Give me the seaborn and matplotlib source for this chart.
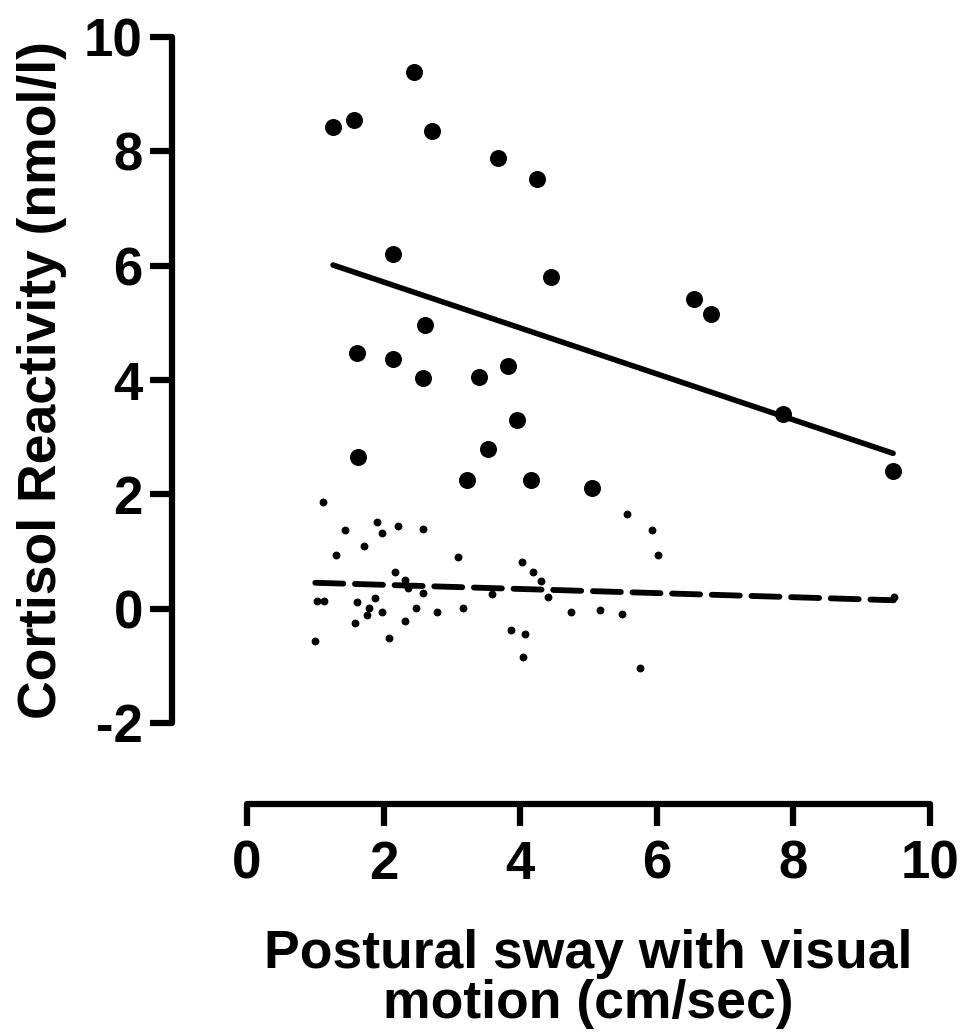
import numpy as np
import pandas as pd
import matplotlib
matplotlib.use("Agg")
import matplotlib.pyplot as plt
import seaborn as sns

# large dots (solid regression line)
big_x = [1.26, 1.57, 2.44, 2.71, 3.67, 4.25, 2.14, 4.45, 2.61, 1.61, 2.14, 2.58,
         3.40, 3.82, 3.95, 3.53, 1.63, 3.22, 4.16, 5.05, 6.55, 6.80, 7.85, 9.46]
big_y = [8.42, 8.54, 9.38, 8.35, 7.89, 7.51, 6.20, 5.80, 4.96, 4.47, 4.37, 4.03,
         4.05, 4.24, 3.30, 2.79, 2.65, 2.25, 2.25, 2.11, 5.41, 5.15, 3.40, 2.40]

# small dots (dashed regression line)
small_x = [1.11, 1.43, 1.90, 1.98, 2.21, 2.58, 1.72, 1.31, 3.09, 2.16, 2.31, 2.36,
           2.57, 1.03, 1.13, 1.61, 1.88, 1.78, 1.76, 1.97, 2.48, 2.78, 3.16, 1.58,
           2.32, 2.08, 1.00, 3.58, 4.02, 4.19, 4.31, 4.41, 3.86, 4.07, 4.04, 5.56,
           5.93, 6.02, 4.74, 5.17, 5.49, 5.76, 9.47]
small_y = [1.86, 1.38, 1.51, 1.32, 1.44, 1.39, 1.10, 0.94, 0.90, 0.65, 0.51, 0.37,
           0.28, 0.14, 0.13, 0.12, 0.18, 0.01, -0.11, -0.06, 0.01, -0.06, 0.02, -0.25,
           -0.21, -0.51, -0.57, 0.26, 0.82, 0.65, 0.48, 0.20, -0.37, -0.45, -0.85, 1.66,
           1.37, 0.94, -0.05, -0.03, -0.09, -1.03, 0.20]

x_ticks = [0, 2, 4, 6, 8, 10]
y_ticks = [-2, 0, 2, 4, 6, 8, 10]

sns.set_style("ticks")
plt.rcParams["font.family"] = ["Liberation Sans", "DejaVu Sans"]
plt.rcParams["font.weight"] = "bold"
plt.rcParams["text.color"] = "black"
plt.rcParams["axes.labelcolor"] = "black"

W, H = 966, 1032
fig = plt.figure(figsize=(W / 100, H / 100), dpi=100)
# data area in pixels: x 0..10 -> 247..930, y -2..10 -> 723..37
ax = fig.add_axes([247 / W, 1 - 723 / H, (930 - 247) / W, (723 - 37) / H])

big = pd.DataFrame({"x": big_x, "y": big_y})
small = pd.DataFrame({"x": small_x, "y": small_y})

sns.regplot(data=big, x="x", y="y", ci=None, ax=ax, color="black",
            scatter_kws={"s": 150, "linewidths": 0, "alpha": 1},
            line_kws={"lw": 4, "solid_capstyle": "round"})
sns.regplot(data=small, x="x", y="y", ci=None, ax=ax, color="black",
            scatter_kws={"s": 32, "linewidths": 0, "alpha": 1},
            line_kws={"lw": 4.2, "ls": (0, (4.8, 2.0)), "dash_capstyle": "round"})

ax.set_xlim(0, 10)
ax.set_ylim(-2, 10)
ax.set_xticks(x_ticks)
ax.set_yticks(y_ticks)
ax.set_xticklabels([str(t) for t in x_ticks])
ax.set_yticklabels([str(t) for t in y_ticks])

sns.despine(ax=ax)
ax.spines["left"].set_position(("outward", 54))
ax.spines["bottom"].set_position(("outward", 58))
for s in ["left", "bottom"]:
    ax.spines[s].set_linewidth(4.5)
    ax.spines[s].set_color("black")
    ax.spines[s].set_capstyle("round")
ax.tick_params(axis="both", length=16, width=4.5, labelsize=38,
               color="black", labelcolor="black")
ax.tick_params(axis="y", pad=5)
ax.tick_params(axis="x", pad=10)

ax.set_xlabel("Postural sway with visual\nmotion (cm/sec)", fontsize=38.5,
              fontweight="bold", labelpad=28, linespacing=1.0)
ax.set_ylabel("Cortisol Reactivity (nmol/l)", fontsize=38.5, fontweight="bold",
              labelpad=12)

fig.savefig("out.png", dpi=100)
